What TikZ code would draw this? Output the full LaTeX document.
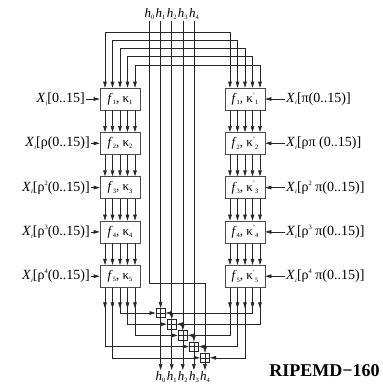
\documentclass[tikz,border=0pt]{standalone}
\usepackage{fontspec}
\setmainfont{Liberation Serif}
\usetikzlibrary{arrows.meta,calc}
\newcommand{\lsub}[1]{\raisebox{-0.4ex}{\fontsize{6.5}{6.5}\selectfont #1}}
\newcommand{\lsup}[1]{\raisebox{0.9ex}{\fontsize{6.5}{6.5}\selectfont #1}}
\newcommand{\kp}[1]{κ\lsup{’}\lsub{#1}}
\begin{document}
\begin{tikzpicture}[x=1pt,y=-1pt,
  ln/.style={line width=0.6pt, draw=black!85},
  arr/.style={ln, -{Triangle[length=6pt,width=3.6pt]}},
  darr/.style={ln, {Triangle[length=6pt,width=3.6pt]}-{Triangle[length=6pt,width=3.6pt]}},
  fbox/.style={draw=black!70, line width=0.6pt, minimum width=40pt, minimum height=22pt, inner sep=0pt, font=\fontsize{13}{13}\selectfont},
  xlab/.style={font=\fontsize{14}{14}\selectfont, inner sep=1pt},
  hlab/.style={font=\fontsize{13}{13}\selectfont, inner sep=1pt},
  adder/.style={draw=black!85, line width=0.6pt, minimum size=9.5pt, inner sep=0pt,
    path picture={\draw[line width=0.6pt] (path picture bounding box.north) -- (path picture bounding box.south)
      (path picture bounding box.west) -- (path picture bounding box.east);}}
]
\useasboundingbox (0,0) rectangle (383,392);

% round boxes
\foreach \i/\y in {1/99,2/143.3,3/187.6,4/231.9,5/276.2} {
  \node[fbox] (L\i) at (120,\y) {\textit{f}\lsub{\i}, κ\lsub{\i}};
  \node[fbox] (R\i) at (245,\y) {\textit{f}\lsub{\i}, \kp{\i}};
}

% arrows between boxes
\foreach \i [evaluate=\i as \j using int(\i+1)] in {1,...,4} {
  \foreach \d in {-15,-7.5,0,7.5,15} {
    \draw[arr] ([xshift=\d pt]L\i.south) -- ([xshift=\d pt]L\j.north);
    \draw[arr] ([xshift=\d pt]R\i.south) -- ([xshift=\d pt]R\j.north);
  }
}

% adders
\foreach \k/\ax/\ay in {1/160.6/313, 2/171.7/324.2, 3/182.8/335.4, 4/193.9/346.6, 5/205/357.8}
  \node[adder] (A\k) at (\ax,\ay) {};

% top h labels
\foreach \k/\hx in {0/149.5,1/160.6,2/171.7,3/182.8,4/193.9}
  \node[hlab, anchor=south] (ht\k) at (\hx,21) {\textit{h}\lsub{\k}};

% top h lines to adders
\foreach \k in {1,...,4}
  \draw[arr] (ht\k.south) -- (A\k.north);
\draw[arr] (ht0.south) -- ++(0,262) -| (A5.north);

% top horizontals feeding both lines
\foreach \d/\yy in {-15/32,-7.5/40.2,0/48.4,7.5/56.6,15/64.8}
  \draw[darr] ([xshift=\d pt]L1.north) -- ({120+\d},\yy) -- ({245+\d},\yy) -- ([xshift=\d pt]R1.north);

% left outputs
\foreach \d/\k in {0/1,7.5/2,15/3,-15/4,-7.5/5} {
  \draw[arr] ([xshift=\d pt]L5.south) -- ++(0,20.8);
  \draw[arr] ([xshift=\d pt]L5.south) |- (A\k.west);
}
% right outputs
\foreach \d/\k in {7.5/1,15/2,-15/3,-7.5/4,0/5} {
  \draw[arr] ([xshift=\d pt]R5.south) -- ++(0,20.8);
  \draw[arr] ([xshift=\d pt]R5.south) |- (A\k.east);
}

% outputs
\foreach \k/\ax/\n in {1/160.6/0, 2/171.7/1, 3/182.8/2, 4/193.9/3, 5/205/4} {
  \node[hlab, anchor=north] (hb\k) at (\ax,370) {\textit{h}\lsub{\n}};
  \draw[arr] (A\k.south) -- (hb\k.north);
}

% message word labels
\node[xlab, anchor=east] (xl1) at (86,99) {\textit{X}\lsub{\textit{i}}[0..15]};
\node[xlab, anchor=east] (xl2) at (91,143.3) {\textit{X}\lsub{\textit{i}}[ρ(0..15)]};
\node[xlab, anchor=east] (xl3) at (91,187.6) {\textit{X}\lsub{\textit{i}}[ρ\lsup{2}(0..15)]};
\node[xlab, anchor=east] (xl4) at (91,231.9) {\textit{X}\lsub{\textit{i}}[ρ\lsup{3}(0..15)]};
\node[xlab, anchor=east] (xl5) at (91,276.2) {\textit{X}\lsub{\textit{i}}[ρ\lsup{4}(0..15)]};
\node[xlab, anchor=west] (xr1) at (285,99) {\textit{X}\lsub{\textit{i}}[π(0..15)]};
\node[xlab, anchor=west] (xr2) at (285,143.3) {\textit{X}\lsub{\textit{i}}[ρπ (0..15)]};
\node[xlab, anchor=west] (xr3) at (285,187.6) {\textit{X}\lsub{\textit{i}}[ρ\lsup{2} π(0..15)]};
\node[xlab, anchor=west] (xr4) at (285,231.9) {\textit{X}\lsub{\textit{i}}[ρ\lsup{3} π(0..15)]};
\node[xlab, anchor=west] (xr5) at (285,276.2) {\textit{X}\lsub{\textit{i}}[ρ\lsup{4} π(0..15)]};
\foreach \i in {1,...,5} {
  \draw[arr] (xl\i.east) -- (L\i.west);
  \draw[arr] (xr\i.west) -- (R\i.east);
}

\node[font=\bfseries\fontsize{18}{18}\selectfont, inner sep=0pt] (title) at (324.5,371) {RIPEMD−160};
\end{tikzpicture}
\end{document}
